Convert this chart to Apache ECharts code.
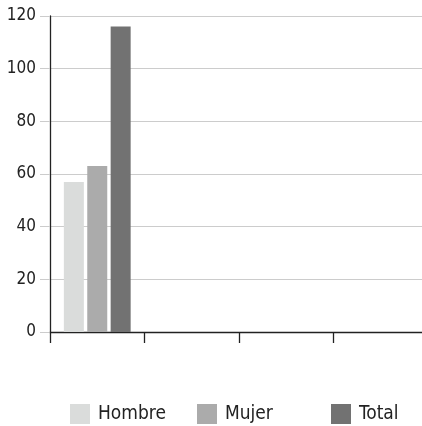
<!DOCTYPE html>
<html><head><meta charset="utf-8">
<script src="https://cdn.jsdelivr.net/npm/echarts@6/dist/echarts.min.js"></script>
<style>html,body{margin:0;padding:0;background:#fff}#c{width:422px;height:426px}</style>
</head><body><div id="c"></div>
<script>
var categories = ['', '', '', ''];
var seriesNames = ['Hombre', 'Mujer', 'Total'];
var hombre = [57, null, null, null];
var mujer = [63, null, null, null];
var total = [116, null, null, null];
var yTicks = [0, 20, 40, 60, 80, 100, 120];
var colors = ['#dadcdb', '#ababab', '#727272'];
var font = '"DejaVu Sans Condensed", "Liberation Sans Narrow", "Roboto Condensed", sans-serif';
var legendLeft = [70, 197, 331];
var chart = echarts.init(document.getElementById('c'));
var vals = [hombre, mujer, total];
chart.setOption({
  animation: false,
  textStyle: {fontFamily: font},
  grid: {left: 50, width: 378, top: 16, bottom: 94, outerBoundsMode: 'none', containLabel: false},
  legend: seriesNames.map(function (n, i) {
    return {data: [n], left: legendLeft[i], top: 404, itemWidth: 20, itemHeight: 20, itemGap: 0, padding: 0,
      icon: 'rect', textStyle: {fontFamily: font, fontSize: 19, color: '#222', padding: [0, 0, 0, 3]}};
  }),
  xAxis: {
    type: 'category', data: categories,
    axisLine: {lineStyle: {color: '#222', width: 1.3}},
    axisTick: {show: true, length: 11, lineStyle: {color: '#222', width: 1.3}},
    axisLabel: {show: false}
  },
  yAxis: {
    type: 'value', min: yTicks[0], max: yTicks[yTicks.length - 1], interval: 20,
    axisLine: {show: true, lineStyle: {color: '#222', width: 1.3}},
    axisTick: {show: true, length: 10, lineStyle: {color: '#ccc'}},
    axisLabel: {fontFamily: font, fontSize: 17, color: '#222', margin: 14},
    splitLine: {lineStyle: {color: '#ccc'}}
  },
  series: seriesNames.map(function (n, i) {
    return {name: n, type: 'bar', data: vals[i], barWidth: 20, barGap: '17%',
      itemStyle: {color: colors[i]}};
  })
});
</script></body></html>
